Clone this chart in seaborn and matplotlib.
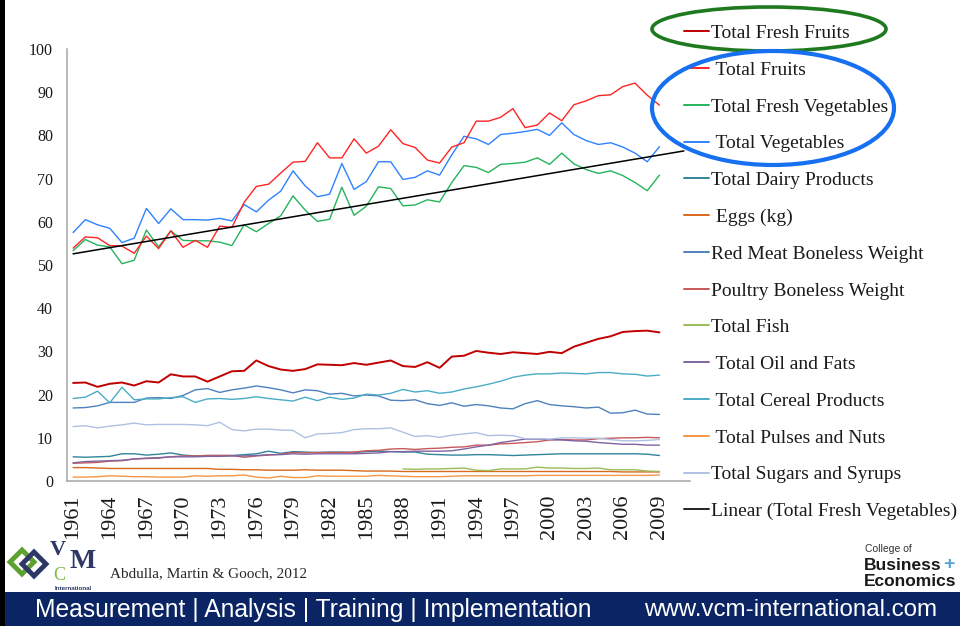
import numpy as np
import pandas as pd
import matplotlib
matplotlib.use("Agg")
import matplotlib.pyplot as plt
import seaborn as sns
from matplotlib.lines import Line2D
from matplotlib.patches import Ellipse, Rectangle, RegularPolygon
from matplotlib.font_manager import FontProperties

# ---------------- data ----------------
years = list(range(1961, 2010))

total_fresh_fruits = [22.7, 22.8, 21.8, 22.5, 22.8, 22.1, 23.1, 22.8, 24.7, 24.2, 24.2, 23.0, 24.2,
                      25.4, 25.5, 27.9, 26.6, 25.8, 25.5, 25.9, 27.0, 26.9, 26.8, 27.3, 26.9, 27.4,
                      27.9, 26.6, 26.4, 27.5, 26.2, 28.8, 29.0, 30.1, 29.7, 29.4, 29.8, 29.6, 29.4,
                      29.9, 29.6, 31.1, 32.0, 32.9, 33.5, 34.5, 34.7, 34.8, 34.4]
total_fruits = [53.9, 56.5, 56.3, 54.5, 54.4, 52.7, 56.7, 53.8, 57.9, 54.1, 55.7, 54.1, 59.0,
                58.7, 64.5, 68.2, 68.7, 71.3, 73.8, 74.0, 78.3, 74.8, 74.8, 79.2, 75.9, 77.5,
                81.3, 78.1, 77.2, 74.3, 73.6, 77.3, 78.3, 83.3, 83.3, 84.2, 86.2, 81.8, 82.4,
                85.2, 83.4, 87.1, 88.0, 89.2, 89.4, 91.3, 92.1, 89.3, 87.0]
total_fresh_vegetables = [53.3, 55.9, 54.6, 54.2, 50.3, 51.1, 58.1, 54.2, 57.9, 55.7, 55.6, 55.6, 55.3,
                          54.5, 59.3, 57.7, 59.6, 61.4, 66.0, 62.7, 60.1, 60.6, 68.0, 61.5, 63.6, 68.1,
                          67.7, 63.7, 63.9, 65.1, 64.6, 69.1, 73.0, 72.6, 71.4, 73.3, 73.5, 73.8, 74.8,
                          73.3, 75.9, 73.4, 72.1, 71.2, 71.8, 70.7, 69.1, 67.2, 70.8]
total_vegetables = [57.5, 60.5, 59.3, 58.5, 55.2, 56.2, 63.1, 59.6, 63.0, 60.5, 60.5, 60.4, 60.8,
                    60.2, 64.0, 62.3, 65.0, 67.1, 71.8, 68.3, 65.8, 66.4, 73.5, 67.5, 69.3, 73.9,
                    73.9, 69.8, 70.3, 71.8, 70.8, 75.5, 79.8, 79.2, 77.9, 80.2, 80.5, 80.9, 81.4,
                    80.0, 82.9, 80.2, 78.8, 77.9, 78.3, 77.3, 75.9, 73.9, 77.4]
total_dairy = [5.6, 5.5, 5.6, 5.7, 6.3, 6.3, 6.0, 6.2, 6.5, 6.0, 5.8, 5.9, 5.9,
               5.9, 6.1, 6.3, 6.9, 6.4, 6.8, 6.7, 6.6, 6.7, 6.7, 6.6, 6.8, 6.9,
               6.8, 6.7, 6.7, 6.2, 6.1, 6.0, 6.0, 6.1, 6.1, 6.0, 5.9, 6.0, 6.1,
               6.2, 6.3, 6.3, 6.3, 6.3, 6.3, 6.3, 6.3, 6.2, 5.9]
eggs = [3.1, 3.1, 3.0, 2.9, 2.9, 2.9, 2.9, 2.9, 2.9, 2.9, 2.9, 2.9, 2.7,
        2.7, 2.6, 2.6, 2.5, 2.5, 2.5, 2.6, 2.5, 2.5, 2.5, 2.4, 2.3, 2.3,
        2.3, 2.2, 2.2, 2.2, 2.2, 2.2, 2.2, 2.2, 2.2, 2.2, 2.2, 2.2, 2.2,
        2.2, 2.2, 2.2, 2.2, 2.2, 2.2, 2.1, 2.1, 2.1, 2.1]
red_meat = [16.9, 17.0, 17.4, 18.2, 18.2, 18.2, 19.2, 19.3, 19.1, 19.8, 21.1, 21.4, 20.5,
            21.1, 21.5, 22.0, 21.6, 21.1, 20.4, 21.1, 20.9, 20.1, 20.3, 19.7, 19.9, 19.7,
            18.7, 18.6, 18.8, 17.9, 17.5, 18.1, 17.3, 17.7, 17.4, 16.9, 16.7, 17.9, 18.6,
            17.7, 17.4, 17.2, 16.9, 17.1, 15.7, 15.8, 16.4, 15.5, 15.4]
poultry = [4.1, 4.2, 4.3, 4.6, 4.7, 5.1, 5.2, 5.3, 5.6, 5.8, 5.8, 5.9, 5.9,
           5.9, 5.5, 5.8, 6.0, 6.2, 6.6, 6.5, 6.6, 6.6, 6.6, 6.7, 7.0, 7.1,
           7.4, 7.5, 7.3, 7.5, 7.6, 7.8, 7.9, 8.3, 8.3, 8.6, 8.7, 8.9, 9.1,
           9.5, 9.6, 9.5, 9.5, 9.8, 9.9, 10.0, 10.0, 10.1, 10.0]
total_fish = [None] * 27 + [2.8, 2.7, 2.8, 2.8, 2.9, 3.0, 2.5, 2.4, 2.8, 2.8, 2.8, 3.2,
                            3.0, 3.0, 2.9, 2.9, 3.0, 2.6, 2.6, 2.6, 2.3, 2.2]
oil_fats = [4.2, 4.5, 4.6, 4.7, 4.8, 5.1, 5.3, 5.4, 5.6, 5.6, 5.6, 5.7, 5.7,
            5.8, 5.8, 5.9, 6.1, 6.1, 6.3, 6.2, 6.3, 6.3, 6.3, 6.3, 6.4, 6.5,
            6.8, 6.8, 6.9, 6.9, 6.9, 7.0, 7.4, 7.9, 8.3, 8.9, 9.3, 9.7, 9.7,
            9.6, 9.5, 9.3, 9.2, 8.9, 8.7, 8.5, 8.5, 8.3, 8.3]
cereal = [19.1, 19.4, 20.8, 18.1, 21.7, 18.8, 19.0, 19.0, 19.3, 19.5, 18.2, 19.0, 19.1,
          18.9, 19.1, 19.5, 19.1, 18.8, 18.5, 19.4, 18.6, 19.4, 18.9, 19.2, 20.1, 19.9,
          20.3, 21.2, 20.6, 20.9, 20.3, 20.6, 21.3, 21.8, 22.4, 23.1, 24.0, 24.5, 24.8,
          24.8, 25.0, 24.9, 24.8, 25.1, 25.1, 24.8, 24.7, 24.3, 24.5]
pulses_nuts = [0.9, 0.9, 1.0, 1.2, 1.1, 1.0, 1.0, 0.9, 0.9, 0.9, 1.2, 1.1, 1.2,
               1.2, 1.4, 0.9, 0.7, 1.1, 0.8, 0.8, 1.2, 1.1, 1.1, 1.1, 1.1, 1.3,
               1.2, 1.1, 1.0, 1.0, 1.0, 1.1, 1.2, 1.2, 1.2, 1.2, 1.2, 1.2, 1.3,
               1.3, 1.3, 1.3, 1.3, 1.3, 1.3, 1.3, 1.3, 1.3, 1.4]
sugars_syrups = [12.6, 12.8, 12.3, 12.7, 13.0, 13.4, 13.0, 13.1, 13.1, 13.1, 13.0, 12.8, 13.6,
                 11.9, 11.6, 12.0, 12.0, 11.8, 11.7, 10.0, 10.9, 11.0, 11.2, 11.9, 12.1, 12.1,
                 12.3, 11.3, 10.3, 10.5, 10.1, 10.6, 10.9, 11.2, 10.5, 10.6, 10.5, 9.8, 9.8,
                 9.7, 10.0, 10.0, 9.9, 9.9, 9.6, 9.3, 9.3, 9.4, 9.6]

labels = ["Total Fresh Fruits", " Total Fruits", "Total Fresh Vegetables", " Total Vegetables",
          "Total Dairy Products", " Eggs (kg)", "Red Meat Boneless Weight", "Poultry Boneless Weight",
          "Total Fish", " Total Oil and Fats", " Total Cereal Products", " Total Pulses and Nuts",
          "Total Sugars and Syrups"]
series = [total_fresh_fruits, total_fruits, total_fresh_vegetables, total_vegetables,
          total_dairy, eggs, red_meat, poultry, total_fish, oil_fats, cereal,
          pulses_nuts, sugars_syrups]
colors = ["#C00000", "#FF2424", "#25B35C", "#2F82FF", "#31859C", "#D9691C", "#4F81BD",
          "#C8595A", "#9BBB59", "#8064A2", "#4BACC6", "#F79646", "#AFC1E3"]
widths = [1.4, 1.0, 1.0, 1.0, 1.0, 1.0, 1.0, 1.0, 1.0, 1.0, 1.0, 1.0, 1.0]
trend_label = "Linear (Total Fresh Vegetables)"
trend_years = list(range(1961, 2012))

# ---------------- figure ----------------
sns.set_style("white")
plt.rcParams["font.family"] = ["Liberation Serif", "DejaVu Serif"]

W, H = 960, 626
fig = plt.figure(figsize=(W / 100, H / 100), dpi=100)
fig.patch.set_facecolor("white")

ax = fig.add_axes([67 / W, 1 - 481 / H, (690 - 67) / W, (481 - 49) / H])

order = [3, 2, 1, 0, 4, 5, 6, 7, 8, 9, 10, 11, 12]
for k in order:
    df = pd.DataFrame({"year": years, "value": np.array(series[k], dtype=float)}).dropna()
    sns.lineplot(data=df, x="year", y="value", color=colors[k], lw=widths[k], ax=ax,
                 zorder=3 if k < 4 else 2)

fv = np.array(total_fresh_vegetables, dtype=float)
coef = np.polyfit(np.array(years, dtype=float), fv, 1)
trend_df = pd.DataFrame({"year": trend_years, "value": np.polyval(coef, trend_years)})
sns.lineplot(data=trend_df, x="year", y="value", color="black", lw=1.1, ax=ax, zorder=4)

ax.set_xlim(1960.5, 2011.5)
ax.set_ylim(0, 100)
ax.set_xlabel("")
ax.set_ylabel("")
ax.set_yticks(range(0, 101, 10))
ax.set_xticks(years[::3])
ax.set_xticklabels([str(y) for y in years[::3]], rotation=90, fontsize=16,
                   family="Liberation Serif", color="#1a1a1a")
ax.set_yticklabels([str(v) for v in range(0, 101, 10)], fontsize=11.5,
                   family="Liberation Serif", color="#1a1a1a")
ax.tick_params(axis="both", length=0)
ax.tick_params(axis="y", pad=10)
ax.tick_params(axis="x", pad=10)
for s in ["top", "right"]:
    ax.spines[s].set_visible(False)
for s in ["left", "bottom"]:
    ax.spines[s].set_color("#A6A6A6")
    ax.spines[s].set_linewidth(1.1)
ax.grid(False)
ax.set_facecolor("none")

handles = [Line2D([0], [0], color=c, lw=1.4) for c in colors]
handles.append(Line2D([0], [0], color="#222222", lw=1.4))
leg = ax.legend(handles, labels + [trend_label], loc="upper left",
                bbox_to_anchor=(684 / W, 1 - 24.5 / H), bbox_transform=fig.transFigure,
                frameon=False, borderpad=0, borderaxespad=0, handlelength=1.3,
                handletextpad=0.1, labelspacing=0.985,
                prop=FontProperties(family="Liberation Serif", size=14))
for t in leg.get_texts():
    t.set_color("#1a1a1a")

# ---------------- overlay decorations ----------------
ov = fig.add_axes([0, 0, 1, 1])
ov.set_xlim(0, W)
ov.set_ylim(H, 0)
ov.axis("off")

ov.add_patch(Ellipse((769, 29), 234, 44, fill=False, ec="#1F7A1F", lw=2.6))
ov.add_patch(Ellipse((773, 108), 242, 114, fill=False, ec="#1670F0", lw=3.0))

ov.add_patch(Rectangle((0, 0), 5, H, color="black", lw=0))
ov.add_patch(Rectangle((5, 592), W - 5, H - 592, color="#0B2463", lw=0))
ov.text(35, 610, "Measurement | Analysis | Training | Implementation", color="white",
        family="Liberation Sans", fontsize=17.7, va="center", ha="left")
ov.text(937, 610, "www.vcm-international.com", color="white",
        family="Liberation Sans", fontsize=17.4, va="center", ha="right")

ov.text(110, 574, "Abdulla, Martin & Gooch, 2012", color="#262626",
        family="Liberation Serif", fontsize=11, va="center", ha="left")

# VCM logo
ov.add_patch(RegularPolygon((22, 562), 4, radius=12, orientation=0, fill=False,
                            ec="#5DA130", lw=3.5))
ov.add_patch(RegularPolygon((34, 564), 4, radius=12, orientation=0, fill=False,
                            ec="#2E3766", lw=3.5))
ov.text(58, 550, "V", color="#2E3766", family="Liberation Serif", fontsize=16,
        fontweight="bold", ha="center", va="center")
ov.text(83, 561, "M", color="#2E3766", family="Liberation Serif", fontsize=20,
        fontweight="bold", ha="center", va="center")
ov.text(59, 575, "C", color="#7DBA4A", family="Liberation Serif", fontsize=13,
        ha="center", va="center")
ov.text(73, 589, "International", color="#2E3766", family="Liberation Sans", fontsize=4.5,
        fontweight="bold", ha="center", va="center")

# College logo
ov.text(865, 549, "College of", color="#333333", family="Liberation Sans", fontsize=7.5,
        ha="left", va="center")
ov.text(864, 565, "Business", color="#1a1a1a", family="Liberation Sans", fontsize=12.5,
        fontweight="bold", ha="left", va="center")
ov.text(943, 564, "+", color="#4FA3D6", family="Liberation Sans", fontsize=14,
        fontweight="bold", ha="left", va="center")
ov.text(864, 581, "Economics", color="#1a1a1a", family="Liberation Sans", fontsize=12.5,
        fontweight="bold", ha="left", va="center")

fig.savefig("out.png", dpi=100)
